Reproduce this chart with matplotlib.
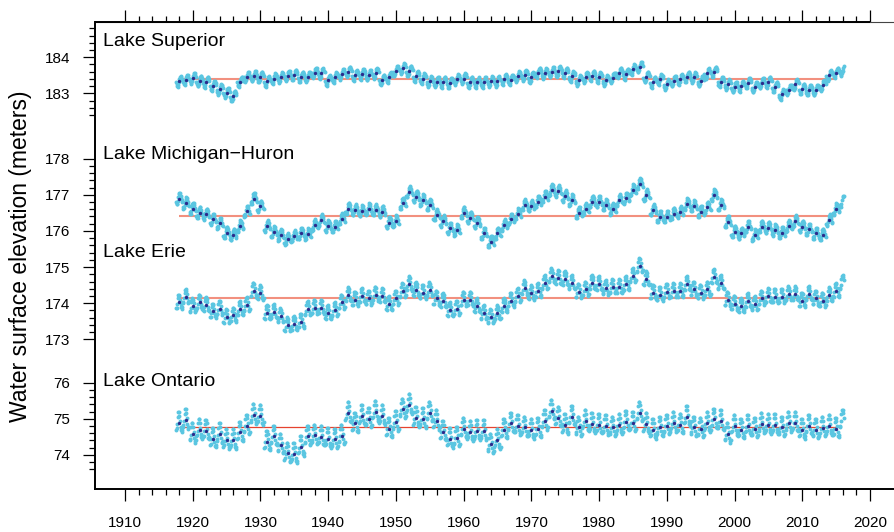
import numpy as np
import matplotlib
matplotlib.use("Agg")
import matplotlib.pyplot as plt
from matplotlib.ticker import FixedLocator, FixedFormatter, NullFormatter

plt.rcParams['font.family'] = ['Liberation Sans', 'DejaVu Sans']

# ---------------- data ----------------
years = list(range(1918, 2016))

superior_annual = [
    183.33, 183.38, 183.42, 183.34, 183.31, 183.21, 183.11, 183.02, 182.93, 183.32,
    183.46, 183.48, 183.45, 183.33, 183.41, 183.44, 183.49, 183.51, 183.45, 183.46,
    183.57, 183.55, 183.36, 183.44, 183.53, 183.60, 183.50, 183.53, 183.51, 183.55,
    183.38, 183.44, 183.62, 183.69, 183.62, 183.47, 183.41, 183.33, 183.32, 183.31,
    183.29, 183.39, 183.41, 183.31, 183.30, 183.31, 183.33, 183.33, 183.39, 183.38,
    183.47, 183.50, 183.44, 183.57, 183.55, 183.59, 183.61, 183.57, 183.47, 183.36,
    183.44, 183.49, 183.44, 183.36, 183.43, 183.57, 183.53, 183.66, 183.73, 183.45,
    183.31, 183.39, 183.25, 183.34, 183.39, 183.45, 183.44, 183.34, 183.55, 183.59,
    183.32, 183.25, 183.18, 183.20, 183.29, 183.18, 183.29, 183.31, 183.18, 182.97,
    183.10, 183.25, 183.12, 183.09, 183.09, 183.22, 183.50, 183.57]

michigan_huron_annual = [
    176.89, 176.77, 176.62, 176.50, 176.46, 176.32, 176.21, 175.95, 175.89, 176.13,
    176.54, 176.89, 176.68, 176.13, 175.97, 175.88, 175.77, 175.86, 175.93, 175.91,
    176.16, 176.30, 176.13, 176.12, 176.33, 176.62, 176.58, 176.55, 176.60, 176.58,
    176.53, 176.23, 176.27, 176.76, 177.08, 176.95, 176.85, 176.72, 176.44, 176.27,
    176.07, 176.02, 176.50, 176.37, 176.23, 175.93, 175.70, 175.93, 176.16, 176.32,
    176.47, 176.72, 176.69, 176.81, 176.95, 177.13, 177.10, 176.96, 176.85, 176.50,
    176.60, 176.81, 176.81, 176.72, 176.60, 176.85, 176.90, 177.13, 177.30, 176.99,
    176.58, 176.39, 176.39, 176.48, 176.52, 176.74, 176.69, 176.53, 176.65, 176.99,
    176.72, 176.25, 175.98, 175.93, 176.12, 175.88, 176.12, 176.09, 176.02, 175.95,
    176.13, 176.27, 176.12, 176.04, 175.93, 175.90, 176.30, 176.60]

erie_annual = [
    174.02, 174.17, 173.92, 174.02, 173.94, 173.77, 173.85, 173.62, 173.66, 173.83,
    173.95, 174.35, 174.27, 173.73, 173.75, 173.64, 173.39, 173.42, 173.49, 173.83,
    173.88, 173.88, 173.72, 173.81, 174.02, 174.22, 174.10, 174.20, 174.13, 174.24,
    174.20, 173.97, 174.13, 174.34, 174.52, 174.36, 174.29, 174.36, 174.13, 174.06,
    173.81, 173.85, 174.10, 174.10, 173.92, 173.73, 173.62, 173.72, 173.92, 174.07,
    174.20, 174.41, 174.27, 174.34, 174.55, 174.75, 174.70, 174.66, 174.55, 174.32,
    174.38, 174.55, 174.53, 174.41, 174.45, 174.45, 174.53, 174.75, 175.03, 174.66,
    174.29, 174.24, 174.32, 174.34, 174.34, 174.53, 174.38, 174.29, 174.38, 174.73,
    174.55, 174.10, 173.99, 173.92, 174.06, 173.97, 174.13, 174.20, 174.18, 174.18,
    174.25, 174.25, 174.07, 174.25, 174.13, 174.07, 174.22, 174.34]

ontario_annual = [
    74.88, 74.96, 74.58, 74.69, 74.67, 74.45, 74.57, 74.41, 74.41, 74.62,
    74.81, 75.10, 75.08, 74.37, 74.51, 74.28, 74.04, 74.02, 74.22, 74.51,
    74.54, 74.50, 74.44, 74.43, 74.53, 75.15, 74.87, 75.07, 75.00, 75.19,
    75.07, 74.73, 74.91, 75.26, 75.38, 75.02, 74.99, 75.17, 74.94, 74.64,
    74.44, 74.48, 74.73, 74.63, 74.66, 74.66, 74.29, 74.41, 74.70, 74.87,
    74.80, 74.76, 74.69, 74.73, 74.94, 75.22, 75.03, 74.82, 75.06, 74.76,
    74.93, 74.85, 74.84, 74.80, 74.76, 74.82, 74.92, 74.89, 75.17, 74.85,
    74.69, 74.76, 74.81, 74.88, 74.84, 75.05, 74.76, 74.73, 74.88, 74.98,
    74.93, 74.58, 74.80, 74.70, 74.80, 74.73, 74.85, 74.82, 74.83, 74.76,
    74.88, 74.89, 74.69, 74.81, 74.70, 74.75, 74.80, 74.73]

# level of the partial year 2016 (months Jan-Aug)
level_2016 = {"superior": 183.64, "mh": 176.81, "erie": 174.55, "ontario": 74.95}
months_2016 = 8

# seasonal departure of monthly levels from the annual mean (Jan..Dec), metres
superior_season = [-0.02, -0.08, -0.13, -0.15, -0.09, -0.01, 0.06, 0.11, 0.14, 0.13, 0.08, 0.03]
mh_season = [-0.10, -0.15, -0.14, -0.06, 0.04, 0.12, 0.16, 0.15, 0.09, 0.02, -0.04, -0.08]
erie_season = [-0.14, -0.16, -0.04, 0.12, 0.20, 0.22, 0.18, 0.08, -0.04, -0.13, -0.17, -0.12]
ontario_season = [-0.18, -0.14, -0.02, 0.18, 0.30, 0.30, 0.20, 0.06, -0.10, -0.20, -0.24, -0.18]

# long-term means
superior_mean = 183.39
mh_mean = 176.42
erie_mean = 174.15
ontario_mean = 74.76

lake_names = ["Lake Superior", "Lake Michigan\u2212Huron", "Lake Erie", "Lake Ontario"]
superior_ticks = [183, 184]
mh_ticks = [176, 177, 178]
erie_ticks = [173, 174, 175]
ontario_ticks = [74, 75, 76]
x_ticks = list(range(1910, 2021, 10))

# ---------------- layout ----------------
W, H = 895, 532
fig = plt.figure(figsize=(W / 100, H / 100), dpi=100)
ax = fig.add_axes([95 / W, 1 - 489 / H, 810 / W, 467 / H])
XL, XR = 1905.57, 2025.17
YB, YT = 168.855, 181.785
ax.set_xlim(XL, XR)
ax.set_ylim(YB, YT)

# vertical offsets that stack the lakes on one shared axis
off = {"superior": -3.19, "mh": 0.0, "erie": 0.0, "ontario": 95.80}

light = "#5AC6E1"
dark = "#2B2B8C"

series = [
    ("superior", superior_annual, superior_season, superior_mean, "#F2907F", 1.5),
    ("mh", michigan_huron_annual, mh_season, mh_mean, "#F2907F", 1.5),
    ("erie", erie_annual, erie_season, erie_mean, "#F2907F", 1.5),
    ("ontario", ontario_annual, ontario_season, ontario_mean, "#E5432F", 0.9),
]

yrs = np.array(years, dtype=float)
for key, ann, seas, mean, lc, lw in series:
    o = off[key]
    ann = np.array(ann)
    seas = np.array(seas)
    mx, my = [], []
    for y, a in zip(years, ann):
        for m in range(12):
            mx.append(y + (m + 1 - 6.5) / 12)
            my.append(a + seas[m])
    for m in range(months_2016):
        mx.append(2016 + (m + 1 - 6.5) / 12)
        my.append(level_2016[key] + seas[m])
    ax.plot([years[0], years[-1]], [mean + o, mean + o], color=lc, lw=lw, zorder=1,
            solid_capstyle='butt')
    ax.scatter(mx, np.array(my) + o, s=8, color=light, linewidths=0, zorder=2)
    ax.scatter(yrs, ann + o, s=6, color=dark, linewidths=0, marker='o', zorder=3)

# ---------------- axes styling ----------------
for side in ["left", "bottom"]:
    ax.spines[side].set_linewidth(1.4)
ax.spines["top"].set_linewidth(0.8)
ax.spines["top"].set_color("#444444")
ax.spines["right"].set_visible(False)
# heavier axis line on the top up to the last tick
ax.plot([XL, 2020], [YT, YT], color="black", lw=1.4, clip_on=False, zorder=5,
        solid_capstyle='butt')

ax.xaxis.set_major_locator(FixedLocator(x_ticks))
ax.xaxis.set_minor_locator(FixedLocator(list(range(1910, 2021, 2))))
ax.tick_params(axis='x', which='both', top=True, bottom=True, labeltop=False,
               direction='out', width=0.9)
ax.tick_params(axis='x', which='major', length=8.6, pad=11, labelsize=11)
ax.tick_params(axis='x', which='minor', length=4)

major_pos, major_lab, minor_pos = [], [], []
for key, ticks, lo, hi in [("superior", superior_ticks, 182.4, 184.8),
                           ("mh", mh_ticks, 175.0, 178.0),
                           ("erie", erie_ticks, 173.0, 175.0),
                           ("ontario", ontario_ticks, 73.6, 76.0)]:
    o = off[key]
    for t in ticks:
        major_pos.append(t + o)
        major_lab.append(str(t))
    for v in np.arange(lo, hi + 1e-6, 0.2):
        if abs(v - round(v)) > 1e-6:
            minor_pos.append(v + o)

ax.yaxis.set_major_locator(FixedLocator(major_pos))
ax.yaxis.set_major_formatter(FixedFormatter(major_lab))
ax.yaxis.set_minor_locator(FixedLocator(minor_pos))
ax.yaxis.set_minor_formatter(NullFormatter())
ax.tick_params(axis='y', which='both', left=True, right=False, direction='out', width=0.9)
ax.tick_params(axis='y', which='major', length=8.6, pad=9, labelsize=11)
ax.tick_params(axis='y', which='minor', length=4)

# lake labels
for name, base in zip(lake_names, [46, 159, 257, 385.5]):
    fig.text(103 / W, 1 - base / H, name, fontsize=14, ha='left', va='baseline')

fig.text(21 / W, 1 - 256.5 / H, "Water surface elevation (meters)", rotation=90,
         fontsize=16.5, ha='center', va='center')

fig.savefig("out.png", dpi=100)
